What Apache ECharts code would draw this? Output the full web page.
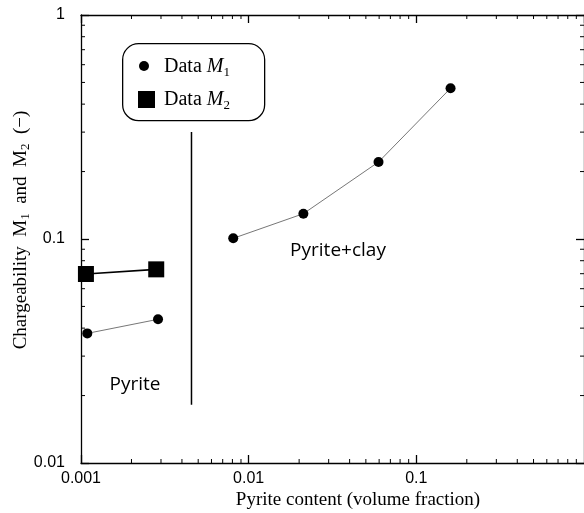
<!DOCTYPE html>
<html>
<head>
<meta charset="utf-8">
<script src="https://cdn.jsdelivr.net/npm/echarts@6/dist/echarts.min.js"></script>
<style>
  html, body { margin: 0; padding: 0; background: #fff; }
  #chart { width: 584px; height: 513px; }
</style>
</head>
<body>
<div id="chart"></div>
<script>
// Chargeability data (M1: dots, M2: squares) versus pyrite volume fraction
const pyriteM1Content = [0.00109, 0.00288];
const pyriteM1Charge  = [0.0379, 0.0438];
const clayM1Content   = [0.00809, 0.0212, 0.0595, 0.160];
const clayM1Charge    = [0.1007, 0.1297, 0.2207, 0.471];
const pyriteM2Content = [0.00107, 0.00281];
const pyriteM2Charge  = [0.0698, 0.0732];

// vertical separator between the two sample groups
const dividerContent = [0.00456, 0.00456];
const dividerCharge  = [0.0182, 0.30];

// axis ranges and labels
const xMin = 0.001, xMax = 1;
const yMin = 0.01,  yMax = 1;
const xTickValues = [0.001, 0.01, 0.1];
const xTickLabels = ['0.001', '0.01', '0.1'];
const yTickValues = [0.01, 0.1, 1];
const yTickLabels = ['0.01', '0.1', '1'];
const minorMultipliers = [2, 3, 4, 5, 6, 7, 8, 9];

const xMinorTicks = [];
[0.001, 0.01, 0.1].forEach(d => minorMultipliers.forEach(m => xMinorTicks.push(+(d * m).toPrecision(3))));
const yMinorTicks = [];
[0.01, 0.1].forEach(d => minorMultipliers.forEach(m => yMinorTicks.push(+(d * m).toPrecision(3))));

function pairs(xs, ys) { return xs.map((x, i) => [x, ys[i]]); }
function labelFor(values, labels) {
  return function (v) {
    for (let i = 0; i < values.length; i++) {
      if (Math.abs(Math.log10(v) - Math.log10(values[i])) < 1e-6) return labels[i];
    }
    return '';
  };
}

const AXIS_W = 1.3;
const MINOR_LEN = 4;
const SANS = '"Liberation Sans", Arial, sans-serif';
const SERIF = '"Liberation Serif", "Times New Roman", serif';
const NOTE_FONT = '"Open Sans", "Noto Sans", sans-serif';

function minorTickRenderer(dim) {
  return function (params, api) {
    const style = { stroke: '#000', lineWidth: 1 };
    if (dim === 'x') {
      const v = api.value(0);
      const b = api.coord([v, yMin]);
      const t = api.coord([v, yMax]);
      return { type: 'group', children: [
        { type: 'line', shape: { x1: b[0], y1: b[1], x2: b[0], y2: b[1] - MINOR_LEN }, style },
        { type: 'line', shape: { x1: t[0], y1: t[1], x2: t[0], y2: t[1] + MINOR_LEN }, style }
      ]};
    } else {
      const v = api.value(1);
      const l = api.coord([xMin, v]);
      const r = api.coord([xMax, v]);
      return { type: 'group', children: [
        { type: 'line', shape: { x1: l[0], y1: l[1], x2: l[0] + MINOR_LEN, y2: l[1] }, style },
        { type: 'line', shape: { x1: r[0], y1: r[1], x2: r[0] - MINOR_LEN, y2: r[1] }, style }
      ]};
    }
  };
}

const axisCommon = {
  type: 'log',
  logBase: 10,
  axisLine: { show: true, onZero: false, lineStyle: { color: '#000', width: AXIS_W } },
  axisTick: { show: true, inside: true, length: 8, lineStyle: { color: '#000', width: AXIS_W } },
  splitLine: { show: false },
  minorTick: { show: false },
  minorSplitLine: { show: false }
};

const legendRich = {
  n: { fontFamily: SERIF, fontSize: 20, lineHeight: 24, fill: '#000' },
  i: { fontFamily: SERIF, fontSize: 20, fontStyle: 'italic', lineHeight: 24, fill: '#000' },
  s: { fontFamily: SERIF, fontSize: 13, lineHeight: 15, verticalAlign: 'bottom', fill: '#000' }
};

const chart = echarts.init(document.getElementById('chart'), null, { renderer: 'canvas' });

chart.setOption({
  animation: false,
  backgroundColor: '#fff',
  grid: { left: 81, top: 15, right: -3, bottom: 50, containLabel: false },
  xAxis: [
    Object.assign({}, axisCommon, {
      position: 'bottom', min: xMin, max: xMax,
      axisLabel: {
        show: true, margin: 8, color: '#000', fontFamily: SANS, fontSize: 16,
        showMaxLabel: false,
        formatter: labelFor(xTickValues, xTickLabels)
      }
    }),
    Object.assign({}, axisCommon, {
      position: 'top', min: xMin, max: xMax,
      axisLabel: { show: false }
    })
  ],
  yAxis: [
    Object.assign({}, axisCommon, {
      position: 'left', min: yMin, max: yMax,
      axisLabel: {
        show: true, margin: 16, color: '#000', fontFamily: SANS, fontSize: 16,
        formatter: labelFor(yTickValues, yTickLabels)
      }
    }),
    Object.assign({}, axisCommon, {
      position: 'right', min: yMin, max: yMax,
      axisLabel: { show: false }
    })
  ],
  series: [
    {
      name: 'Data M1 (pyrite)', type: 'line',
      data: pairs(pyriteM1Content, pyriteM1Charge),
      symbol: 'circle', symbolSize: 10,
      itemStyle: { color: '#000' },
      lineStyle: { color: '#777', width: 1 },
      z: 5
    },
    {
      name: 'Data M1 (pyrite+clay)', type: 'line',
      data: pairs(clayM1Content, clayM1Charge),
      symbol: 'circle', symbolSize: 10,
      itemStyle: { color: '#000' },
      lineStyle: { color: '#777', width: 1 },
      z: 5
    },
    {
      name: 'Data M2', type: 'line',
      data: pairs(pyriteM2Content, pyriteM2Charge),
      symbol: 'rect', symbolSize: 16,
      itemStyle: { color: '#000' },
      lineStyle: { color: '#000', width: 1.6 },
      z: 5
    },
    {
      name: 'divider', type: 'line',
      data: pairs(dividerContent, dividerCharge),
      symbol: 'none',
      lineStyle: { color: '#000', width: 1.5 },
      z: 4
    },
    {
      name: 'x minor ticks', type: 'custom', silent: true, clip: false,
      data: xMinorTicks.map(v => [v, yMin]),
      renderItem: minorTickRenderer('x'), z: 3
    },
    {
      name: 'y minor ticks', type: 'custom', silent: true, clip: false,
      data: yMinorTicks.map(v => [xMin, v]),
      renderItem: minorTickRenderer('y'), z: 3
    }
  ],
  graphic: [
    // legend box
    {
      type: 'rect', left: 122, top: 43, z: 10,
      shape: { width: 142, height: 77, r: 16 },
      style: { fill: '#fff', stroke: '#000', lineWidth: 1.3 }
    },
    {
      type: 'circle', z: 11,
      shape: { cx: 144, cy: 66, r: 5 },
      style: { fill: '#000' }
    },
    {
      type: 'rect', z: 11,
      shape: { x: 138, y: 91, width: 17, height: 17 },
      style: { fill: '#000' }
    },
    {
      type: 'text', z: 11, x: 164, y: 67,
      style: { text: '{n|Data }{i|M}{s|1}', textVerticalAlign: 'middle', rich: legendRich }
    },
    {
      type: 'text', z: 11, x: 164, y: 100,
      style: { text: '{n|Data }{i|M}{s|2}', textVerticalAlign: 'middle', rich: legendRich }
    },
    // group annotations
    {
      type: 'text', z: 6, x: 135, y: 385,
      style: {
        text: 'Pyrite', fontFamily: NOTE_FONT, fontSize: 19,
        fill: '#000', textAlign: 'center', textVerticalAlign: 'middle'
      }
    },
    {
      type: 'text', z: 6, x: 338, y: 251,
      style: {
        text: 'Pyrite+clay', fontFamily: NOTE_FONT, fontSize: 19,
        fill: '#000', textAlign: 'center', textVerticalAlign: 'middle'
      }
    },
    // axis titles
    {
      type: 'text', z: 6, x: 358, y: 500,
      style: {
        text: 'Pyrite content (volume fraction)', fontFamily: SERIF, fontSize: 19,
        fill: '#000', textAlign: 'center', textVerticalAlign: 'middle'
      }
    },
    {
      type: 'text', z: 6, x: 21, y: 230, rotation: Math.PI / 2,
      style: {
        text: '{n|Chargeability  M}{s|1}{n|  and  M}{s|2}{n|  (−)}',
        textAlign: 'center', textVerticalAlign: 'middle',
        rich: {
          n: { fontFamily: SERIF, fontSize: 19, lineHeight: 23, fill: '#000' },
          s: { fontFamily: SERIF, fontSize: 13, lineHeight: 15, verticalAlign: 'bottom', fill: '#000' }
        }
      }
    }
  ]
});
</script>
</body>
</html>
